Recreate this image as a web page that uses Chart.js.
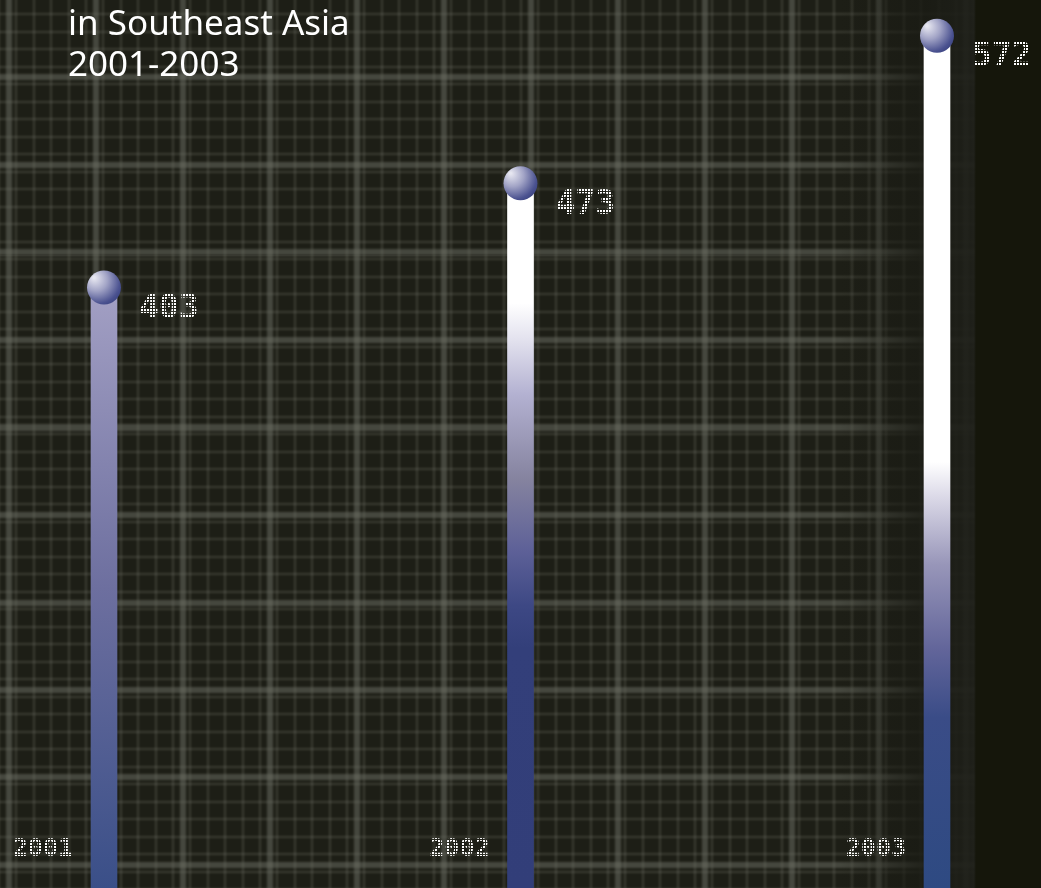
<!DOCTYPE html>
<html>
<head>
<meta charset="utf-8">
<script src="https://cdn.jsdelivr.net/npm/chart.js@4/dist/chart.umd.min.js"></script>
<style>
  html, body { margin: 0; padding: 0; background: #1e1f17; overflow: hidden; }
  #wrap { position: relative; width: 1041px; height: 888px; overflow: hidden; }
  #cloth {
    position: absolute; left: -10px; top: -10px; width: 1061px; height: 908px;
    background-color: #1d1e16;
    background-image:
      repeating-linear-gradient(90deg, transparent 0 16px, rgba(110,112,102,0.5) 16px 22px, transparent 22px 87px),
      repeating-linear-gradient(0deg, transparent 0 30px, rgba(110,112,102,0.5) 30px 36px, transparent 36px 87.5px),
      repeating-linear-gradient(90deg, transparent 0 8px, rgba(125,127,115,0.3) 8px 10px, transparent 10px 17.4px),
      repeating-linear-gradient(0deg, transparent 0 8px, rgba(125,127,115,0.3) 8px 10px, transparent 10px 17.5px);
    filter: blur(1.2px);
  }
  #shade {
    position: absolute; left: 0; top: 0; width: 1041px; height: 888px;
    background: linear-gradient(90deg, rgba(22,23,12,0) 0, rgba(22,23,12,0) 840px, rgba(26,27,20,0.85) 925px, rgba(30,31,25,0.92) 974px, #15160b 976px, #15160b 100%);
  }
  canvas { position: absolute; left: 0; top: 0; }
</style>
</head>
<body>
<div id="wrap">
  <div id="cloth"></div>
  <div id="shade"></div>
  <canvas id="chart" width="1041" height="888"></canvas>
</div>
<script>
// data
var years = ['2001', '2002', '2003'];
var values = [403, 473, 572];
var titleLines = ['in Southeast Asia', '2001-2003'];

// per-bar fades, top of bar -> bottom of bar
var fades = [
  [[0, '#a3a0c4'], [0.5, '#6d6f9f'], [1, '#3a4f88']],
  [[0, '#ffffff'], [0.17, '#ffffff'], [0.22, '#e4e3ef'], [0.3, '#b3b1d1'], [0.42, '#85839f'], [0.52, '#5e6198'], [0.6, '#3d4884'], [0.66, '#333f7a'], [1, '#323e79']],
  [[0, '#ffffff'], [0.5, '#ffffff'], [0.54, '#dcdae8'], [0.62, '#9896b9'], [0.72, '#62659a'], [0.8, '#3a4c87'], [1, '#2e4a82']]
];

var dotCanvas = document.createElement('canvas');
dotCanvas.width = 3; dotCanvas.height = 3;
var dc = dotCanvas.getContext('2d');
dc.fillStyle = '#ffffff';
dc.fillRect(0, 0, 2, 2);

function barFill(context) {
  var chart = context.chart;
  var y = chart.scales && chart.scales.y;
  if (!y || !chart.chartArea) return '#3a4f88';
  var top = y.getPixelForValue(values[context.dataIndex]);
  var bottom = y.getPixelForValue(0);
  if (!isFinite(top) || !isFinite(bottom) || bottom - top < 1) return '#3a4f88';
  var g = chart.ctx.createLinearGradient(0, top, 0, bottom);
  fades[context.dataIndex].forEach(function (s) { g.addColorStop(s[0], s[1]); });
  return g;
}

var decor = {
  id: 'decor',
  afterDatasetsDraw: function (chart) {
    var ctx = chart.ctx;
    var meta = chart.getDatasetMeta(0);
    var dots = ctx.createPattern(dotCanvas, 'repeat');
    ctx.save();

    // title
    ctx.fillStyle = '#ffffff';
    ctx.font = '35px "Noto Sans"';
    ctx.textAlign = 'left';
    ctx.textBaseline = 'alphabetic';
    titleLines.forEach(function (t, i) { ctx.fillText(t, 68, 35 + i * 41); });

    meta.data.forEach(function (el, i) {
      var x = el.x, y = el.y, r = 17;
      var g = ctx.createRadialGradient(x - 10, y - 10, 1, x - 5, y - 5, 27);
      g.addColorStop(0, '#e6e6f0');
      g.addColorStop(0.4, '#a2a4c6');
      g.addColorStop(0.8, '#4b5290');
      g.addColorStop(1, '#333d7b');
      ctx.beginPath();
      ctx.arc(x, y, r, 0, Math.PI * 2);
      ctx.fillStyle = g;
      ctx.fill();

      ctx.fillStyle = dots;
      ctx.textBaseline = 'middle';
      ctx.textAlign = 'left';
      ctx.font = 'bold 33px "DejaVu Sans Mono"';
      ctx.fillText(String(values[i]), x + 35, y + 22);

      ctx.textAlign = 'right';
      ctx.font = 'bold 25px "DejaVu Sans Mono"';
      ctx.fillText(years[i], x - 31, 849);
    });
    ctx.restore();
  }
};

new Chart(document.getElementById('chart'), {
  type: 'bar',
  data: {
    labels: years,
    datasets: [{
      data: values,
      backgroundColor: barFill,
      borderWidth: 0,
      barThickness: 26,
      clip: false
    }]
  },
  options: {
    responsive: false,
    animation: false,
    devicePixelRatio: 1,
    layout: { padding: { left: 104, right: 104, top: 0, bottom: 0 } },
    plugins: { legend: { display: false }, tooltip: { enabled: false } },
    scales: {
      x: { display: false, offset: false, grid: { offset: false } },
      y: { display: false, min: 0, max: 596 }
    }
  },
  plugins: [decor]
});
</script>
</body>
</html>
